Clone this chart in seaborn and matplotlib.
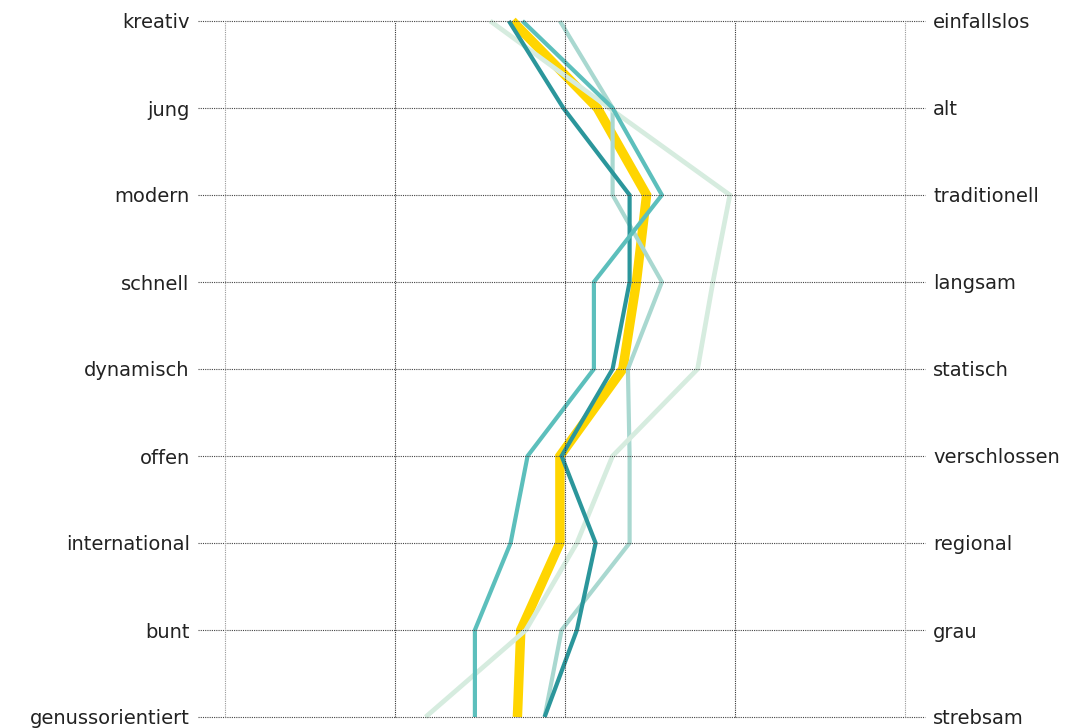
import matplotlib
matplotlib.use("Agg")
import matplotlib.pyplot as plt
import seaborn as sns
import pandas as pd

# Begriffspaare (links / rechts)
links = ["kreativ", "jung", "modern", "schnell", "dynamisch", "offen",
         "international", "bunt", "genussorientiert"]
rechts = ["einfallslos", "alt", "traditionell", "langsam", "statisch",
          "verschlossen", "regional", "grau", "strebsam"]

# Mittelwerte je Gruppe (Skala 1..5)
gelb = [2.69, 3.19, 3.48, 3.42, 3.34, 2.97, 2.97, 2.74, 2.72]
dunkeltuerkis = [2.67, 2.99, 3.38, 3.38, 3.28, 2.98, 3.18, 3.07, 2.88]
tuerkis = [2.75, 3.28, 3.57, 3.17, 3.17, 2.78, 2.68, 2.47, 2.47]
hellgrau = [2.97, 3.28, 3.28, 3.57, 3.37, 3.38, 3.38, 2.98, 2.88]
hellgruen = [2.56, 3.26, 3.97, 3.87, 3.78, 3.28, 3.07, 2.77, 2.18]

sns.set_style("white")
plt.rcParams["font.family"] = ["DejaVu Sans"]

fig = plt.figure(figsize=(10.83, 7.28), dpi=100)
ax = fig.add_axes([198 / 1083, 11 / 728, 727 / 1083, 696 / 728])

pos = list(range(len(links)))

# Reihenfolge = Zeichenreihenfolge (unten nach oben)
serien = [
    (gelb, "#FFD500", 6.8, 2),
    (hellgrau, "#A9D8D0", 3.0, 3),
    (hellgruen, "#D6ECDF", 3.4, 4),
    (dunkeltuerkis, "#2B969B", 3.0, 5),
    (tuerkis, "#5CBFBC", 3.0, 6),
]
for werte, farbe, lw, z in serien:
    df = pd.DataFrame({"wert": werte, "pos": pos})
    sns.lineplot(data=df, x="wert", y="pos", orient="y", sort=False,
                 color=farbe, linewidth=lw, zorder=z, ax=ax,
                 solid_joinstyle="miter", solid_capstyle="butt", clip_on=False)

ax.set_xlim(1 - 27 / 170, 5 + 20 / 170)
ax.set_ylim(len(links) - 1, 0)

# Raster gepunktet, über den Linien
for p in pos:
    ax.axhline(p, color="#444444", linestyle=(0, (1, 1)), linewidth=0.8,
               zorder=10, clip_on=False)
for x in [1, 2, 3, 4, 5]:
    farbe = "#999999" if x in (1, 5) else "#333333"
    ax.axvline(x, color=farbe, linestyle=(0, (1, 1)), linewidth=0.8,
               zorder=10, clip_on=False)

for s in ax.spines.values():
    s.set_visible(False)

ax.set_xticks([])
ax.set_yticks(pos)
ax.set_yticklabels(links)
ax.tick_params(axis="y", length=0, pad=6, labelsize=14, labelcolor="#222222")
ax.set_xlabel("")
ax.set_ylabel("")

ax2 = ax.twinx()
ax2.set_ylim(ax.get_ylim())
ax2.set_yticks(pos)
ax2.set_yticklabels(rechts)
ax2.tick_params(axis="y", length=0, pad=6, labelsize=14, labelcolor="#222222")
for s in ax2.spines.values():
    s.set_visible(False)

fig.savefig("out.png", dpi=100)
